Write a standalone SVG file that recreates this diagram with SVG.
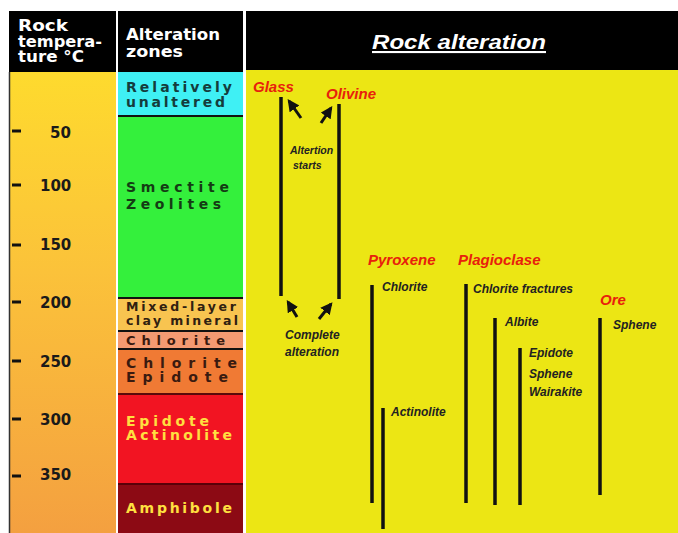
<svg xmlns="http://www.w3.org/2000/svg" width="678" height="533" viewBox="0 0 678 533">
<defs>
<linearGradient id="tg" x1="0" y1="0" x2="0" y2="1">
<stop offset="0" stop-color="#ffe22a"/>
<stop offset="0.5" stop-color="#fbc23a"/>
<stop offset="1" stop-color="#f4a040"/>
</linearGradient>
<marker id="ah" viewBox="0 0 10 10" refX="8" refY="5" markerWidth="4" markerHeight="4" orient="auto">
<path d="M0,0 L10,5 L0,10 z" fill="#111"/>
</marker>
<style>
.hd{font-family:"DejaVu Sans","Liberation Sans",sans-serif;font-weight:bold;fill:#fff;font-size:15px}
.num{font-family:"DejaVu Sans","Liberation Sans",sans-serif;font-weight:bold;fill:#1a1a1a;font-size:15px}
.zn{font-family:"DejaVu Sans","Liberation Sans",sans-serif;font-weight:bold;font-size:14px}
.mn{font-family:"Liberation Sans",Arial,sans-serif;font-weight:bold;font-style:italic;fill:#e8200c;font-size:15px}
.sm{font-family:"Liberation Sans",Arial,sans-serif;font-weight:bold;font-style:italic;fill:#222;font-size:12px}
.ln{stroke:#111;stroke-width:3.5;fill:none}
.ar{stroke:#111;stroke-width:3;fill:none;marker-end:url(#ah)}
.tk{stroke:#111;stroke-width:3}
</style>
</defs>
<rect width="678" height="533" fill="#fff"/>
<!-- Column 1 -->
<g id="temperature">
<rect x="9" y="11" width="107" height="522" fill="url(#tg)"/>
<rect x="9" y="11" width="107" height="61" fill="#000"/>
<line x1="9.5" y1="72" x2="9.5" y2="533" stroke="#333" stroke-width="1.5"/>
<text class="hd" x="18" y="31" textLength="50" lengthAdjust="spacingAndGlyphs">Rock</text>
<text class="hd" x="18" y="47" textLength="84" lengthAdjust="spacingAndGlyphs">tempera-</text>
<text class="hd" x="18" y="62" textLength="66" lengthAdjust="spacingAndGlyphs">ture °C</text>
<line class="tk" x1="12" y1="131" x2="21" y2="131"/><text class="num" x="50" y="138">50</text>
<line class="tk" x1="12" y1="185" x2="21" y2="185"/><text class="num" x="40" y="191">100</text>
<line class="tk" x1="12" y1="245" x2="21" y2="245"/><text class="num" x="40" y="250">150</text>
<line class="tk" x1="12" y1="302" x2="21" y2="302"/><text class="num" x="40" y="308">200</text>
<line class="tk" x1="12" y1="361" x2="21" y2="361"/><text class="num" x="40" y="367">250</text>
<line class="tk" x1="12" y1="419" x2="21" y2="419"/><text class="num" x="40" y="425">300</text>
<line class="tk" x1="12" y1="476" x2="21" y2="476"/><text class="num" x="40" y="480">350</text>
</g>
<!-- Column 2 -->
<g id="zones">
<rect x="118" y="11" width="125" height="61" fill="#000"/>
<text class="hd" x="126" y="40" textLength="94" lengthAdjust="spacingAndGlyphs">Alteration</text>
<text class="hd" x="126" y="57" textLength="57" lengthAdjust="spacingAndGlyphs">zones</text>
<rect x="118" y="72" width="125" height="43" fill="#3ff0f4"/>
<rect x="118" y="115" width="125" height="2" fill="#111"/>
<rect x="118" y="117" width="125" height="181" fill="#34f03c"/>
<rect x="118" y="297" width="125" height="2" fill="#111"/>
<rect x="118" y="299" width="125" height="31" fill="#f8c450"/>
<rect x="118" y="330" width="125" height="2" fill="#111"/>
<rect x="118" y="332" width="125" height="16" fill="#f49a72"/>
<rect x="118" y="348" width="125" height="2" fill="#111"/>
<rect x="118" y="350" width="125" height="43" fill="#f07a34"/>
<rect x="118" y="393" width="125" height="2" fill="#5a0a0a"/>
<rect x="118" y="395" width="125" height="88" fill="#f21422"/>
<rect x="118" y="483" width="125" height="2" fill="#5a0008"/>
<rect x="118" y="485" width="125" height="48" fill="#8c0a14"/>
<text class="zn" x="126" y="92" fill="#143c3c" textLength="106" lengthAdjust="spacing">Relatively</text>
<text class="zn" x="126" y="107" fill="#143c3c" textLength="99" lengthAdjust="spacing">unaltered</text>
<text class="zn" x="126" y="192" fill="#143c14" textLength="103" lengthAdjust="spacing">Smectite</text>
<text class="zn" x="126" y="209" fill="#143c14" textLength="95" lengthAdjust="spacing">Zeolites</text>
<text class="zn" x="126" y="311" fill="#302010" style="font-size:12.5px" textLength="110" lengthAdjust="spacing">Mixed-layer</text>
<text class="zn" x="126" y="325" fill="#302010" style="font-size:12.5px" textLength="112" lengthAdjust="spacing">clay mineral</text>
<text class="zn" x="126" y="345" fill="#3a1a10" style="font-size:13px" textLength="99" lengthAdjust="spacing">Chlorite</text>
<text class="zn" x="126" y="368" fill="#3a1a10" textLength="111" lengthAdjust="spacing">Chlorite</text>
<text class="zn" x="126" y="382" fill="#3a1a10" textLength="102" lengthAdjust="spacing">Epidote</text>
<text class="zn" x="126" y="426" fill="#ffe040" textLength="83" lengthAdjust="spacing">Epidote</text>
<text class="zn" x="126" y="440" fill="#ffe040" textLength="106" lengthAdjust="spacing">Actinolite</text>
<text class="zn" x="126" y="513" fill="#ffe040" textLength="106" lengthAdjust="spacing">Amphibole</text>
</g>
<!-- Column 3 -->
<g id="alteration-panel">
<rect x="246" y="11" width="432" height="522" fill="#ece614"/>
<rect x="246" y="11" width="432" height="59" fill="#000"/>
<text x="372" y="49" font-family="Liberation Sans, Arial, sans-serif" font-weight="bold" font-style="italic" font-size="21" fill="#fff" text-decoration="underline" textLength="174" lengthAdjust="spacingAndGlyphs">Rock alteration</text>
</g>
<g id="glass">
<text class="mn" x="253" y="92">Glass</text>
</g>
<g id="olivine">
<text class="mn" x="326" y="99">Olivine</text>
</g>
<g id="pyroxene">
<text class="mn" x="368" y="265">Pyroxene</text>
<text class="sm" x="382" y="291">Chlorite</text>
<text class="sm" x="391" y="416">Actinolite</text>
</g>
<g id="plagioclase">
<text class="mn" x="458" y="265">Plagioclase</text>
<text class="sm" x="473" y="293">Chlorite fractures</text>
<text class="sm" x="505" y="326">Albite</text>
<text class="sm" x="529" y="357">Epidote</text>
<text class="sm" x="529" y="378">Sphene</text>
<text class="sm" x="529" y="396">Wairakite</text>
</g>
<g id="ore">
<text class="mn" x="600" y="305">Ore</text>
<text class="sm" x="613" y="329">Sphene</text>
</g>
<g id="notes">
<text class="sm" x="290" y="154" style="font-size:10.5px">Altertion</text>
<text class="sm" x="293" y="169" style="font-size:10.5px">starts</text>
<text class="sm" x="285" y="339">Complete</text>
<text class="sm" x="285" y="356">alteration</text>
</g>
<g id="connectors">
<line class="ln" x1="281" y1="97" x2="281" y2="296"/>
<line class="ln" x1="339" y1="104" x2="339" y2="299"/>
<line class="ar" x1="301" y1="118" x2="289" y2="101"/>
<line class="ar" x1="321" y1="123" x2="331" y2="108"/>
<line class="ar" x1="297" y1="317" x2="288" y2="302"/>
<line class="ar" x1="319" y1="319" x2="331" y2="304"/>
<line class="ln" x1="372" y1="285" x2="372" y2="503"/>
<line class="ln" x1="383" y1="408" x2="383" y2="529"/>
<line class="ln" x1="466" y1="284" x2="466" y2="503"/>
<line class="ln" x1="495" y1="318" x2="495" y2="505"/>
<line class="ln" x1="520" y1="348" x2="520" y2="505"/>
<line class="ln" x1="600" y1="318" x2="600" y2="495"/>
</g>
</svg>
